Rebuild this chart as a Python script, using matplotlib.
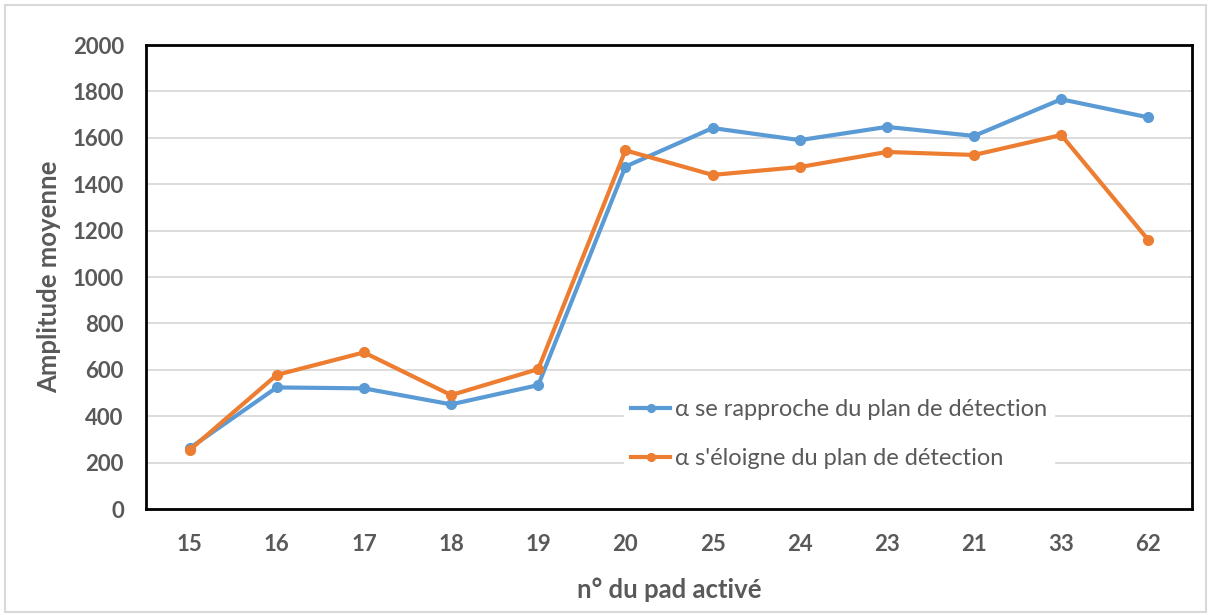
import matplotlib
matplotlib.use("Agg")
import matplotlib.pyplot as plt
from matplotlib.patches import Rectangle

# Pad numbers (in the order they were activated) and mean amplitudes
pads = ["15", "16", "17", "18", "19", "20", "25", "24", "23", "21", "33", "62"]
approche = [262, 524, 520, 451, 534, 1476, 1642, 1590, 1647, 1608, 1766, 1688]
eloigne = [254, 578, 675, 491, 603, 1546, 1440, 1474, 1539, 1526, 1612, 1159]

series_labels = ["α se rapproche du plan de détection",
                 "α s'éloigne du plan de détection"]
blue = "#5B9BD5"
orange = "#ED7D31"
text_grey = "#595959"

plt.rcParams["font.family"] = ["Lato", "DejaVu Sans"]

fig = plt.figure(figsize=(12.10, 6.15), dpi=100)
ax = fig.add_axes([146 / 1210, 1 - 509 / 615, 1046 / 1210, 464 / 615])

# light frame around the whole chart area
fig.patches.append(Rectangle((5 / 1210, 3 / 615), 1201 / 1210, 607 / 615,
                             transform=fig.transFigure, fill=False,
                             edgecolor="#d9d9d9", linewidth=1.5))

x = list(range(len(pads)))
ax.plot(x, approche, color=blue, linewidth=3, marker="o", markersize=7,
        label=series_labels[0], zorder=3)
ax.plot(x, eloigne, color=orange, linewidth=3, marker="o", markersize=7,
        label=series_labels[1], zorder=3)

ax.set_xlim(-0.5, len(pads) - 0.5)
ax.set_ylim(0, 2000)
ax.set_yticks(range(0, 2001, 200))
ax.set_xticks(x)
ax.set_xticklabels(pads)
ax.grid(axis="y", color="#d9d9d9", linewidth=1.3)
ax.set_axisbelow(True)

for s in ax.spines.values():
    s.set_color("black")
    s.set_linewidth(2)

ax.tick_params(axis="both", length=0, labelsize=16, labelcolor=text_grey)
ax.tick_params(axis="x", pad=18)
ax.tick_params(axis="y", pad=16)
for lbl in ax.get_xticklabels() + ax.get_yticklabels():
    lbl.set_fontweight("bold")

ax.set_ylabel("Amplitude moyenne", fontsize=18.5, fontweight="bold",
              color=text_grey, labelpad=8)
ax.set_xlabel("n° du pad activé", fontsize=18.5, fontweight="bold",
              color=text_grey, labelpad=16)

leg = ax.legend(loc="upper left", bbox_to_anchor=(478 / 1046, 1 - (392 - 45) / 464),
                frameon=True, fancybox=False, framealpha=1, edgecolor="white",
                fontsize=17, labelcolor=text_grey, handlelength=1.65,
                handletextpad=0.2, labelspacing=1.2, borderpad=0.3,
                borderaxespad=0, markerscale=0.8)
for line in leg.get_lines():
    line.set_linewidth(3)

fig.savefig("out.png", dpi=100, facecolor="white")
